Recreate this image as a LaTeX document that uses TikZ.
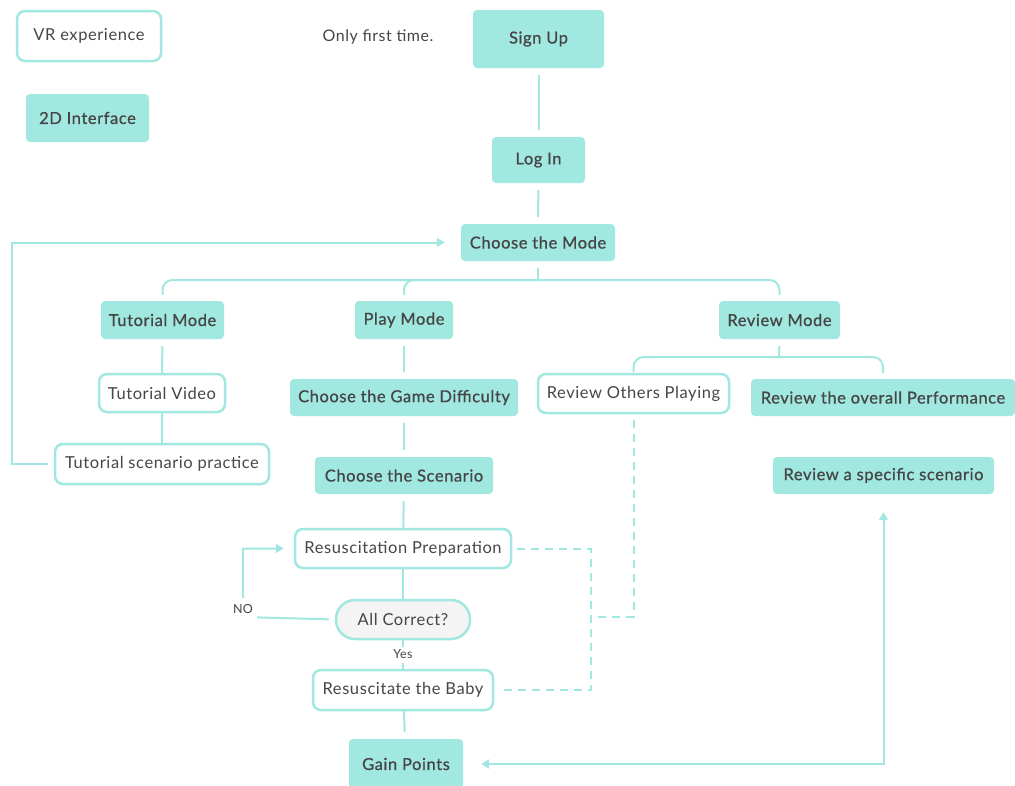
\documentclass[tikz,border=0pt]{standalone}
\usepackage{fontspec}
\setmainfont{Lato}[LetterSpace=3.5]
\newfontfamily\medfont{Lato}[FakeBold=0.8,LetterSpace=3.5]
\usetikzlibrary{arrows.meta}
\definecolor{tl}{RGB}{161,232,224}
\definecolor{txt}{RGB}{70,70,70}
\definecolor{pill}{RGB}{244,244,244}
\begin{document}
\begin{tikzpicture}[x=1pt,y=-1pt,
  fbox/.style={fill=tl, rounded corners=4pt, text=txt, inner sep=0pt, font=\fontsize{16.5}{19}\selectfont\medfont},
  wbox/.style={draw=tl, line width=2.5pt, fill=white, rounded corners=8pt, text=txt, inner sep=0pt, font=\fontsize{16.5}{19}\selectfont},
  conn/.style={draw=tl, line width=2pt},
  dsh/.style={conn, dash pattern=on 8pt off 6pt},
  tip/.style={-{Triangle[width=9pt,length=8pt]}},
  lbl/.style={text=txt, font=\fontsize{12.5}{14}\selectfont, fill=white, inner sep=0pt}
]
\useasboundingbox (0,0) rectangle (1015,785);
% legend
\node[wbox, minimum width=144pt, minimum height=50pt] (vr) at (89,36) {VR experience};
\node[fbox, minimum width=123pt, minimum height=48pt] (twod) at (87.5,118) {2D Interface};
\node[text=txt, font=\fontsize{16}{19}\selectfont] (oft) at (378,37) {Only first time.};
% main column
\node[fbox, minimum width=131pt, minimum height=58pt] (su) at (538.5,39) {Sign Up};
\node[fbox, minimum width=93pt, minimum height=46pt] (li) at (538.5,160) {Log In};
\node[fbox, minimum width=154pt, minimum height=37pt] (cm) at (538,242.5) {Choose the Mode};
% modes
\node[fbox, minimum width=123pt, minimum height=38pt] (tm) at (162.5,320) {Tutorial Mode};
\node[fbox, minimum width=98pt, minimum height=38pt] (pm) at (404,320) {Play Mode};
\node[fbox, minimum width=121pt, minimum height=38pt] (rm) at (779.5,320) {Review Mode};
% tutorial branch
\node[wbox, minimum width=126pt, minimum height=38pt] (tv) at (162,393) {Tutorial Video};
\node[wbox, minimum width=214pt, minimum height=40pt] (tsp) at (162,464) {Tutorial scenario practice};
% play branch
\node[fbox, minimum width=228pt, minimum height=37pt] (gd) at (404,397.5) {Choose the Game Difficulty};
\node[fbox, minimum width=178pt, minimum height=37pt] (sc) at (404,475.5) {Choose the Scenario};
\node[wbox, minimum width=216pt, minimum height=39pt] (rp) at (403,548.5) {Resuscitation Preparation};
\node[wbox, fill=pill, rounded corners=19pt, minimum width=134pt, minimum height=39pt] (ac) at (403,619.5) {All Correct?};
\node[wbox, minimum width=180pt, minimum height=40pt] (rb) at (403,690) {Resuscitate the Baby};
\node[fbox, minimum width=114pt, minimum height=50pt] (gp) at (406,764) {Gain Points};
% review branch
\node[wbox, minimum width=191pt, minimum height=39pt] (ro) at (633.5,393.5) {Review Others Playing};
\node[fbox, minimum width=264pt, minimum height=37pt] (op) at (883,397.5) {Review the overall Performance};
\node[fbox, minimum width=221pt, minimum height=37pt] (rs) at (883.5,475.5) {Review a specific scenario};

% coordinates
\coordinate (h1) at (538,280);
\coordinate (h2) at (779,357);
\coordinate (nl) at (243,617);
\coordinate (lp) at (12,464);
\coordinate (dv) at (591,617);

% connectors
\draw[conn, shorten <=7pt, shorten >=7pt] (su) -- (li);
\draw[conn, shorten <=7pt, shorten >=7pt] (li) -- (cm);
\draw[conn, shorten <=7pt] (cm.south) -- (h1);
\draw[conn, rounded corners=10pt, shorten <=6pt, shorten >=6pt] (tm.north) |- (h1) -| (rm.north);
\draw[conn, rounded corners=10pt, shorten <=6pt] (pm.north) |- (h1);
\draw[conn, shorten <=7pt] (rm.south) -- (h2);
\draw[conn, rounded corners=10pt, shorten <=1pt, shorten >=6pt] (ro.north) |- (h2) -| (op.north);

\draw[conn, shorten <=7pt] (tm) -- (tv);
\draw[conn] (tv) -- (tsp);
\draw[conn, tip, shorten <=6pt, shorten >=16pt] (tsp.west) -- (lp) |- (cm.west);

\draw[conn, shorten <=7pt, shorten >=7pt] (pm) -- (gd);
\draw[conn, shorten <=7pt, shorten >=7pt] (gd) -- (sc);
\draw[conn, shorten <=7pt] (sc) -- (rp);
\draw[conn] (rp) -- (ac);
\draw[conn] (ac) -- node[lbl, minimum width=30pt, minimum height=16pt] {Yes} (rb);
\draw[conn, shorten >=7pt] (rb) -- (gp);
\draw[conn, tip, shorten <=6pt, shorten >=10pt] (ac.west) -- (nl) |- (rp.west);
\node[lbl, minimum width=28pt, minimum height=22pt] (no) at (243,609) {NO};

\draw[dsh, shorten <=5pt, shorten >=5pt] (rp.east) -| (dv) |- (rb.east);
\draw[dsh, shorten <=6pt] (ro.south) |- (dv);

\draw[conn, {Triangle[width=9pt,length=8pt]}-{Triangle[width=9pt,length=8pt]}, shorten <=18pt, shorten >=18pt] (gp.east) -| (rs.south);
\end{tikzpicture}
\end{document}
